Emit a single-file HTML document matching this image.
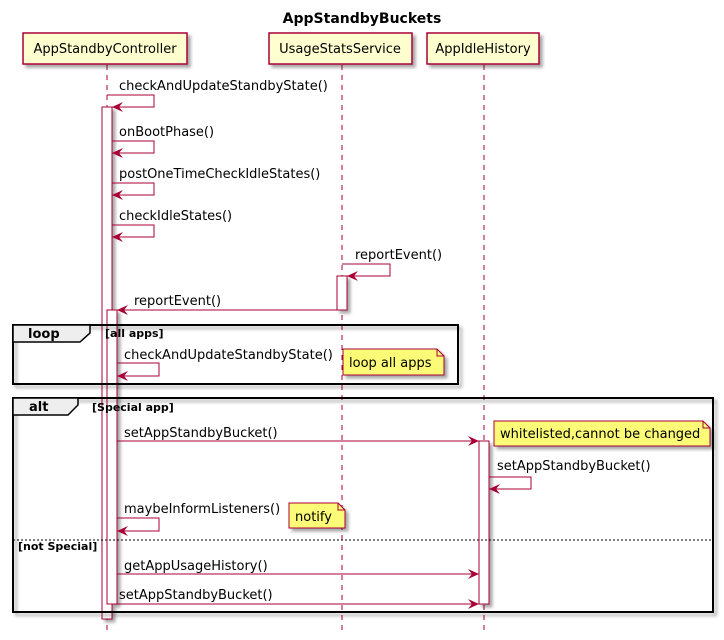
<!DOCTYPE html>
<html><head><meta charset="utf-8"><style>
html,body{margin:0;padding:0;background:#fff;}
svg{display:block;font-family:"DejaVu Sans","Liberation Sans",sans-serif;}
</style></head><body>
<svg width="724" height="640" viewBox="0 0 724 640" xmlns="http://www.w3.org/2000/svg">
<defs>
<filter id="sh" x="-10%" y="-10%" width="130%" height="140%">
<feGaussianBlur in="SourceAlpha" stdDeviation="1.5"/>
<feOffset dx="3" dy="3" result="o"/>
<feComponentTransfer><feFuncA type="linear" slope="0.35"/></feComponentTransfer>
<feMerge><feMergeNode/><feMergeNode in="SourceGraphic"/></feMerge>
</filter>
<marker id="ah" markerWidth="12" markerHeight="10" refX="11" refY="5" orient="auto" markerUnits="userSpaceOnUse">
<path d="M0,0 L11,5 L0,10 L4,5 Z" fill="#A80036"/>
</marker>
</defs>
<text x="362" y="23" text-anchor="middle" font-size="14" font-weight="bold">AppStandbyBuckets</text>

<!-- lifelines -->
<g stroke="#A80036" stroke-dasharray="5,5" stroke-width="1">
<line x1="107" y1="65" x2="107" y2="630"/>
<line x1="342" y1="65" x2="342" y2="630"/>
<line x1="484" y1="65" x2="484" y2="630"/>
</g>

<!-- participants -->
<g fill="#FEFECE" stroke="#A80036" stroke-width="1.5" filter="url(#sh)">
<rect x="23" y="33" width="164" height="31"/>
<rect x="269" y="33" width="143" height="31"/>
<rect x="427" y="33" width="112" height="31"/>
</g>
<g font-size="13" text-anchor="middle">
<text x="105" y="53">AppStandbyController</text>
<text x="340" y="53">UsageStatsService</text>
<text x="483" y="53">AppIdleHistory</text>
</g>

<!-- activations -->
<g fill="#fff" stroke="#A80036" stroke-width="1" filter="url(#sh)">
<rect x="102" y="107" width="10" height="512"/>
<rect x="107" y="310" width="10" height="294"/>
<rect x="337" y="276" width="10" height="34"/>
<rect x="479" y="441" width="10" height="163"/>
</g>

<!-- loop frame -->
<g filter="url(#sh)">
<rect x="13" y="325" width="445" height="59" fill="none" stroke="#000" stroke-width="2"/>
</g>
<path d="M13,325 L90,325 L90,333 L80,342 L13,342 Z" fill="#EEEEEE" stroke="#000" stroke-width="1.5"/>
<text x="28" y="338" font-size="13" font-weight="bold">loop</text>
<text x="105" y="337" font-size="11" font-weight="bold">[all apps]</text>

<!-- alt frame -->
<g filter="url(#sh)">
<rect x="13" y="398" width="700" height="214" fill="none" stroke="#000" stroke-width="2"/>
</g>
<path d="M13,398 L78,398 L78,405 L68,415 L13,415 Z" fill="#EEEEEE" stroke="#000" stroke-width="1.5"/>
<text x="29" y="411" font-size="13" font-weight="bold">alt</text>
<text x="92" y="411" font-size="11" font-weight="bold">[Special app]</text>
<line x1="13" y1="540" x2="713" y2="540" stroke="#000" stroke-width="1" stroke-dasharray="2,2"/>
<text x="18" y="550" font-size="11" font-weight="bold">[not Special]</text>

<!-- messages -->
<g stroke="#A80036" stroke-width="1" fill="none">
<polyline points="107,95 154,95 154,107 112,107" marker-end="url(#ah)"/>
<polyline points="112,141 154,141 154,153 112,153" marker-end="url(#ah)"/>
<polyline points="112,183 154,183 154,195 112,195" marker-end="url(#ah)"/>
<polyline points="112,225 154,225 154,237 112,237" marker-end="url(#ah)"/>
<polyline points="342,264 390,264 390,276 347,276" marker-end="url(#ah)"/>
<line x1="337" y1="310" x2="117" y2="310" marker-end="url(#ah)"/>
<polyline points="117,363 159,363 159,376 117,376" marker-end="url(#ah)"/>
<line x1="117" y1="441" x2="479" y2="441" marker-end="url(#ah)"/>
<polyline points="489,477 531,477 531,489 489,489" marker-end="url(#ah)"/>
<polyline points="117,518 159,518 159,531 117,531" marker-end="url(#ah)"/>
<line x1="117" y1="574" x2="479" y2="574" marker-end="url(#ah)"/>
<line x1="117" y1="604" x2="479" y2="604" marker-end="url(#ah)"/>
</g>
<g font-size="13">
<text x="119" y="90">checkAndUpdateStandbyState()</text>
<text x="119" y="136">onBootPhase()</text>
<text x="119" y="178">postOneTimeCheckIdleStates()</text>
<text x="119" y="220">checkIdleStates()</text>
<text x="355" y="259">reportEvent()</text>
<text x="134" y="305">reportEvent()</text>
<text x="124" y="359">checkAndUpdateStandbyState()</text>
<text x="124" y="437">setAppStandbyBucket()</text>
<text x="497" y="470">setAppStandbyBucket()</text>
<text x="124" y="513">maybeInformListeners()</text>
<text x="124" y="570">getAppUsageHistory()</text>
<text x="119" y="599">setAppStandbyBucket()</text>
</g>

<!-- notes -->
<g fill="#FBFB77" stroke="#A80036" stroke-width="1" filter="url(#sh)">
<path d="M343,349 L437,349 L444,356 L444,375 L343,375 Z"/>
<path d="M494,421 L703,421 L710,428 L710,446 L494,446 Z"/>
<path d="M289,503 L338,503 L345,510 L345,528 L289,528 Z"/>
</g>
<g fill="none" stroke="#A80036" stroke-width="1">
<path d="M437,349 L437,356 L444,356"/>
<path d="M703,421 L703,428 L710,428"/>
<path d="M338,503 L338,510 L345,510"/>
</g>
<g font-size="13">
<text x="349" y="367">loop all apps</text>
<text x="500" y="438">whitelisted,cannot be changed</text>
<text x="295" y="521">notify</text>
</g>
</svg>
</body></html>
